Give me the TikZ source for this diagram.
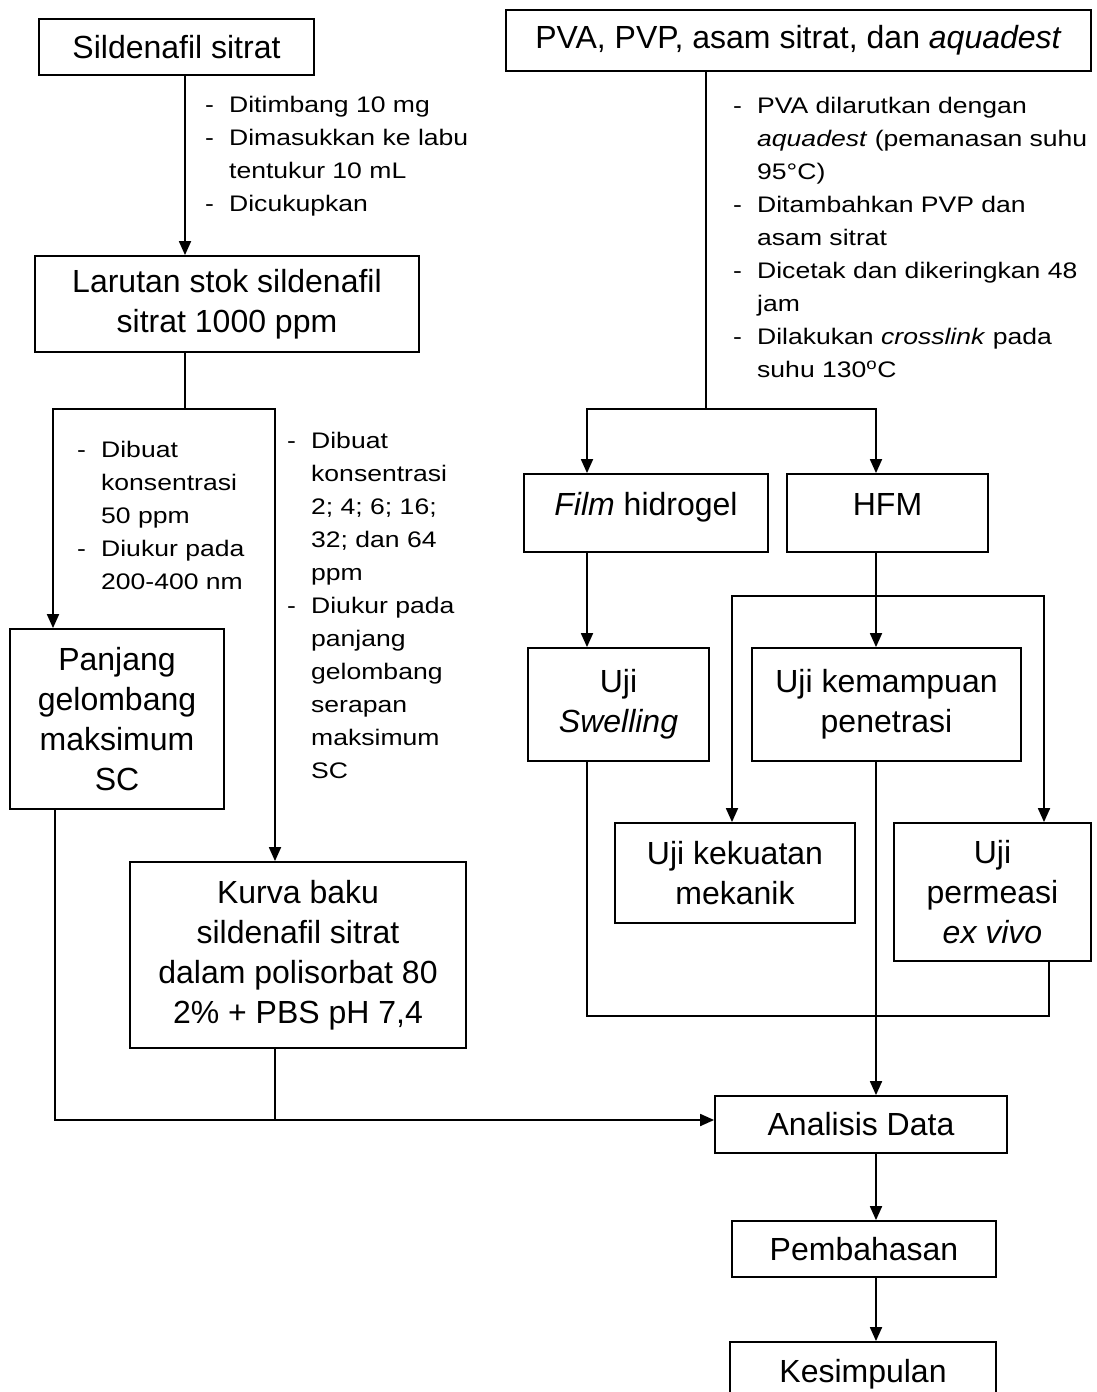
\documentclass[tikz,border=0pt]{standalone}
\usepackage{fontspec}
\setmainfont{Liberation Sans}
\newfontfamily\notefont[FakeStretch=1.18]{Liberation Sans}
\usepackage{tikz}
\usetikzlibrary{arrows.meta}
\tikzset{>={Triangle[length=14pt,width=12pt]}}
\tikzset{box/.style={draw, line width=1.8pt, align=center, inner sep=2pt,
    font=\fontsize{32}{40}\selectfont},
  note/.style={anchor=base west, inner sep=0pt,
    font=\notefont\fontsize{22.5}{33}\selectfont},
  link/.style={line width=1.8pt}}
\newcommand{\dsh}{\makebox[24pt][l]{-}}
\newcommand{\ind}{\hspace*{24pt}}

\begin{document}
\begin{tikzpicture}[x=1pt, y=-1pt]
\useasboundingbox (0,0) rectangle (1096,1392);

% kolom kiri
\node[box, minimum width=275, minimum height=56] (sild) at (176.5,47) {Sildenafil sitrat};
\node[box, minimum width=384, minimum height=96] (lar) at (227,304) {Larutan stok sildenafil\\ sitrat 1000 ppm};
\node[box, minimum width=214, minimum height=180] (pjg) at (117,719) {Panjang\\ gelombang\\ maksimum\\ SC};
\node[box, minimum width=336, minimum height=186] (kurva) at (298,955) {Kurva baku\\ sildenafil sitrat\\ dalam polisorbat 80\\ 2\% + PBS pH 7,4};

% kolom kanan
\node[box, minimum width=585, minimum height=61] (pva) at (798.5,40.5) {PVA, PVP, asam sitrat, dan \textit{aquadest}};
\node[box, minimum width=244, minimum height=78, text depth=18pt] (film) at (646,513) {\textit{Film} hidrogel};
\node[box, minimum width=201, minimum height=78, text depth=18pt] (hfm) at (887.5,513) {HFM};
\node[box, minimum width=181, minimum height=113] (swell) at (618.5,704.5) {Uji\\ \textit{Swelling}};
\node[box, minimum width=269, minimum height=113] (kmp) at (886.5,704.5) {Uji kemampuan\\ penetrasi};
\node[box, minimum width=240, minimum height=100] (kkt) at (735,873) {Uji kekuatan\\ mekanik};
\node[box, minimum width=197, minimum height=138] (prm) at (992.5,892) {Uji\\ permeasi\\ \textit{ex vivo}};
\node[box, minimum width=292, minimum height=57] (anl) at (861,1124.5) {Analisis Data};
\node[box, minimum width=264, minimum height=56] (bhs) at (864,1249) {Pembahasan};
\node[box, minimum width=266, minimum height=64] (ksp) at (863,1374) {Kesimpulan};

% keterangan
\node[note] (t1) at (205,112) {\begin{tabular}[t]{@{}l@{}}
  \dsh Ditimbang 10 mg\\ \dsh Dimasukkan ke labu\\ \ind tentukur 10 mL\\ \dsh Dicukupkan
  \end{tabular}};
\node[note] (t2) at (77,457) {\begin{tabular}[t]{@{}l@{}}
  \dsh Dibuat\\ \ind konsentrasi\\ \ind 50 ppm\\ \dsh Diukur pada\\ \ind 200-400 nm
  \end{tabular}};
\node[note] (t3) at (287,448) {\begin{tabular}[t]{@{}l@{}}
  \dsh Dibuat\\ \ind konsentrasi\\ \ind 2; 4; 6; 16;\\ \ind 32; dan 64\\ \ind ppm\\
  \dsh Diukur pada\\ \ind panjang\\ \ind gelombang\\ \ind serapan\\ \ind maksimum\\ \ind SC
  \end{tabular}};
\node[note] (t4) at (733,113) {\begin{tabular}[t]{@{}l@{}}
  \dsh PVA dilarutkan dengan\\ \ind \textit{aquadest} (pemanasan suhu\\ \ind 95°C)\\
  \dsh Ditambahkan PVP dan\\ \ind asam sitrat\\ \dsh Dicetak dan dikeringkan 48\\ \ind jam\\
  \dsh Dilakukan \textit{crosslink} pada\\ \ind suhu 130\textsuperscript{o}C
  \end{tabular}};

% titik cabang
\coordinate (jA) at (185,409);
\coordinate (jL) at (53,409);
\coordinate (jR) at (275,409);
\coordinate (jP) at (706,409);
\coordinate (jF) at (587,409);
\coordinate (jH) at (876,409);
\coordinate (jK) at (876,596);
\coordinate (jK1) at (732,596);
\coordinate (jK2) at (1044,596);
\coordinate (jS) at (587,1016);
\coordinate (jS2) at (1049,1016);
\coordinate (jB) at (55,1120);
\coordinate (jB2) at (275,1120);

% garis kiri
\draw[link, ->] (sild.south -| jA) -- (lar.north -| jA);
\draw[link] (lar.south -| jA) -- (jA);
\draw[link, ->] (jA) -- (jL) -- (pjg.north -| jL);
\draw[link, ->] (jA) -- (jR) -- (kurva.north -| jR);
\draw[link, ->] (pjg.south -| jB) -- (jB) -- (anl.west |- jB);
\draw[link] (kurva.south -| jB2) -- (jB2);

% garis kanan
\draw[link] (pva.south -| jP) -- (jP);
\draw[link, ->] (jP) -- (jF) -- (film.north -| jF);
\draw[link, ->] (jP) -- (jH) -- (hfm.north -| jH);
\draw[link, ->] (film.south -| jF) -- (swell.north -| jF);
\draw[link, ->] (hfm.south -| jH) -- (kmp.north -| jH);
\draw[link, ->] (jK) -- (jK1) -- (kkt.north -| jK1);
\draw[link, ->] (jK) -- (jK2) -- (prm.north -| jK2);
\draw[link] (swell.south -| jS) -- (jS) -- (jS2) -- (prm.south -| jS2);
\draw[link, ->] (kmp.south -| jH) -- (anl.north -| jH);
\draw[link, ->] (anl.south -| jH) -- (bhs.north -| jH);
\draw[link, ->] (bhs.south -| jH) -- (ksp.north -| jH);
\end{tikzpicture}
\end{document}
